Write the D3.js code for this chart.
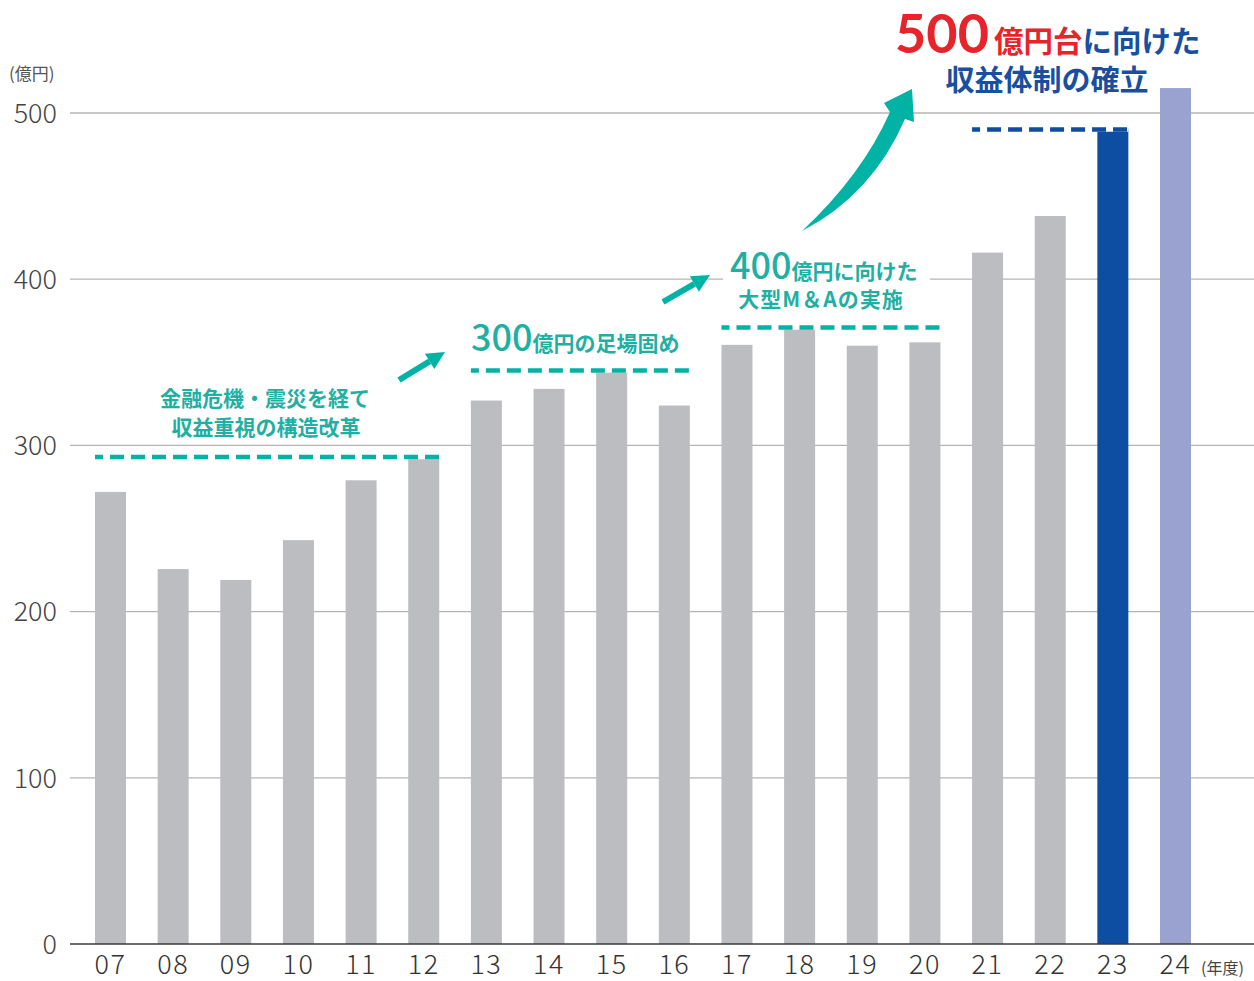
<!DOCTYPE html>
<html>
<head>
<meta charset="utf-8">
<script src="https://cdn.jsdelivr.net/npm/d3@7"></script>
<style>
  body { margin: 0; background: #fff; }
  svg { display: block; font-family: "Noto Sans CJK JP", "Noto Sans", sans-serif; }
</style>
</head>
<body>
<svg id="chart" width="1254" height="981"></svg>
<script>
// 年度別の値（億円）
var years = ["07", "08", "09", "10", "11", "12", "13", "14", "15", "16", "17", "18", "19", "20", "21", "22", "23", "24"];
var values = [272, 225.6, 219, 243, 279, 293, 327, 334, 345, 324, 360.5, 371, 360, 362, 416, 438, 490.5, 515];
var yTicks = [0, 100, 200, 300, 400, 500];

// 各フェーズの目安ライン
var phaseFrom = ["07", "13", "17", "21"];
var phaseTo = ["12", "16", "20", "23"];
var phaseLevel = [293, 345, 371, 490];

var TEAL = "#00b3a4";
var TEAL_TEXT = "#1fafa3";
var BLUE = "#0d4ea3";
var RED = "#e8242b";

var svg = d3.select("#chart");

var y = d3.scaleLinear().domain([0, 500]).range([944, 113]);
var x = d3.scalePoint().domain(years).range([110.5, 1175.5]);
var bw = 31;

// grid
svg.append("g")
    .selectAll("line")
    .data(yTicks.slice(1))
    .enter()
    .append("line")
    .attr("x1", 70)
    .attr("x2", 1254)
    .attr("y1", function(d) { return y(d); })
    .attr("y2", function(d) { return y(d); })
    .attr("stroke", "#b4b4b4")
    .attr("stroke-width", 1.3);

svg.append("g")
    .selectAll("text")
    .data(yTicks)
    .enter()
    .append("text")
    .attr("x", 57)
    .attr("y", function(d) { return y(d); })
    .attr("dy", "0.36em")
    .attr("text-anchor", "end")
    .attr("font-size", 27)
    .attr("font-weight", 300)
    .attr("fill", "#444")
    .text(function(d) { return d; });

svg.append("text")
    .attr("x", 9)
    .attr("y", 80)
    .attr("font-size", 17)
    .attr("fill", "#555")
    .text("(億円)");

// white box behind the 400 label so the gridline breaks there
svg.append("rect")
    .attr("x", 723)
    .attr("y", 250)
    .attr("width", 207)
    .attr("height", 62)
    .attr("fill", "#fff");

// bars
svg.append("g")
    .selectAll("rect")
    .data(values)
    .enter()
    .append("rect")
    .attr("x", function(d, i) { return x(years[i]) - bw / 2; })
    .attr("y", function(d) { return y(d); })
    .attr("width", bw)
    .attr("height", function(d) { return y(0) - y(d); })
    .attr("fill", function(d, i) {
        if (years[i] === "23") return BLUE;
        if (years[i] === "24") return "#9aa3d0";
        return "#bcbdc1";
    });

// baseline
svg.append("line")
    .attr("x1", 70)
    .attr("x2", 1254)
    .attr("y1", y(0))
    .attr("y2", y(0))
    .attr("stroke", "#3a3a3a")
    .attr("stroke-width", 1.6);

svg.append("g")
    .selectAll("text")
    .data(years)
    .enter()
    .append("text")
    .attr("x", function(d) { return x(d); })
    .attr("y", 974)
    .attr("text-anchor", "middle")
    .attr("font-size", 27)
    .attr("font-weight", 300)
    .attr("letter-spacing", 1.5)
    .attr("fill", "#333")
    .text(function(d) { return d; });

svg.append("text")
    .attr("x", 1201)
    .attr("y", 974)
    .attr("font-size", 16)
    .attr("fill", "#444")
    .text("(年度)");

// dashed phase lines
phaseLevel.forEach(function(v, i) {
    var x1 = x(phaseFrom[i]) - bw / 2;
    var x2 = x(phaseTo[i]) + bw / 2;
    var col = i === 3 ? BLUE : TEAL;
    svg.append("line")
        .attr("x1", x1).attr("x2", x2)
        .attr("y1", y(v)).attr("y2", y(v))
        .attr("stroke", "#fff")
        .attr("stroke-width", 4.5);
    svg.append("line")
        .attr("x1", x1).attr("x2", x2)
        .attr("y1", y(v)).attr("y2", y(v))
        .attr("stroke", col)
        .attr("stroke-width", 4.5)
        .attr("stroke-dasharray", "14,7")
        .attr("stroke-dashoffset", 6);
});

// straight arrows
function arrow(x1, y1, x2, y2) {
    var a = Math.atan2(y2 - y1, x2 - x1);
    var len = 18, hw = 9;
    var bx = x2 - len * Math.cos(a), by = y2 - len * Math.sin(a);
    svg.append("line")
        .attr("x1", x1).attr("y1", y1)
        .attr("x2", bx).attr("y2", by)
        .attr("stroke", TEAL)
        .attr("stroke-width", 6);
    var px = -Math.sin(a) * hw, py = Math.cos(a) * hw;
    svg.append("path")
        .attr("d", "M" + x2 + "," + y2 + "L" + (bx + px) + "," + (by + py) + "L" + (bx - px) + "," + (by - py) + "Z")
        .attr("fill", TEAL);
}
arrow(399, 380, 445, 352);
arrow(663, 302, 710, 275);

// big curved arrow
svg.append("path")
    .attr("d", "M802,231 Q862,175 890,112 L884,103 L912,89 L914,122 L905,119 Q872,195 802,231 Z")
    .attr("fill", TEAL);

// annotation texts
svg.append("text")
    .attr("x", 265).attr("y", 406)
    .attr("text-anchor", "middle")
    .attr("font-size", 21).attr("font-weight", 700)
    .attr("fill", TEAL_TEXT)
    .text("金融危機・震災を経て");
svg.append("text")
    .attr("x", 266).attr("y", 435)
    .attr("text-anchor", "middle")
    .attr("font-size", 21).attr("font-weight", 700)
    .attr("fill", TEAL_TEXT)
    .text("収益重視の構造改革");

var t300 = svg.append("text")
    .attr("x", 471).attr("y", 351)
    .attr("font-weight", 700)
    .attr("fill", TEAL_TEXT);
t300.append("tspan").attr("font-size", 36).attr("font-weight", 500).text("300");
t300.append("tspan").attr("font-size", 21).text("億円の足場固め");

var t400 = svg.append("text")
    .attr("x", 730).attr("y", 279)
    .attr("font-weight", 700)
    .attr("fill", TEAL_TEXT);
t400.append("tspan").attr("font-size", 36).attr("font-weight", 500).text("400");
t400.append("tspan").attr("font-size", 21).text("億円に向けた");
svg.append("text")
    .attr("x", 821).attr("y", 307)
    .attr("text-anchor", "middle")
    .attr("font-size", 21).attr("font-weight", 700)
    .attr("letter-spacing", 1)
    .attr("fill", TEAL_TEXT)
    .text("大型M＆Aの実施");

svg.append("text")
    .attr("x", 895).attr("y", 53)
    .attr("font-family", "Lato, sans-serif")
    .attr("font-size", 54)
    .attr("font-weight", 700)
    .attr("fill", RED)
    .text("500");
var t500 = svg.append("text")
    .attr("x", 994).attr("y", 52)
    .attr("font-weight", 700);
t500.append("tspan").attr("font-size", 29.5).attr("fill", RED).text("億円台");
t500.append("tspan").attr("font-size", 29.5).attr("fill", "#1a4fa0").text("に向けた");
svg.append("text")
    .attr("x", 1047).attr("y", 91)
    .attr("text-anchor", "middle")
    .attr("font-size", 29).attr("font-weight", 700)
    .attr("fill", "#1a4fa0")
    .text("収益体制の確立");
</script>
</body>
</html>
